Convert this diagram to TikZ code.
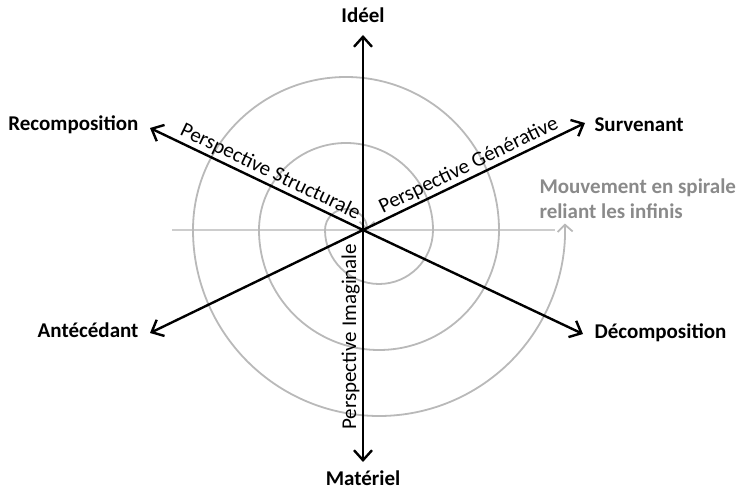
\documentclass[tikz,border=0pt]{standalone}
\usepackage{fontspec}
\setmainfont{Carlito}
\usetikzlibrary{arrows.meta}
\definecolor{spiralgray}{RGB}{185,185,185}
\definecolor{linegray}{RGB}{205,205,205}
\definecolor{notegray}{RGB}{138,138,138}

\begin{document}
\begin{tikzpicture}[x=1pt, y=1pt, >={Straight Barb[length=10pt,width=18pt]},
  every node/.style={font=\fontsize{21}{25}\selectfont},
  axis/.style={line width=2.4pt, ->},
  spiral/.style={draw=spiralgray, line width=1.8pt, {Straight Barb[length=7pt,width=15pt]}-{Straight Barb[length=7pt,width=15pt]}},
  pole/.style={font=\fontsize{21}{25}\selectfont\bfseries}]
\useasboundingbox (0,0) rectangle (743,492);

% spirale et horizon
\draw[linegray, line width=1.4pt] (172,262) -- (555,262);
\draw[spiral] (367,262) arc[start angle=0,end angle=180,radius=21]
  arc[start angle=180,end angle=360,radius=54]
  arc[start angle=0,end angle=180,radius=87]
  arc[start angle=180,end angle=360,radius=120]
  arc[start angle=0,end angle=180,radius=153]
  arc[start angle=180,end angle=362,radius=186];
\node[font=\fontsize{21}{25}\selectfont\bfseries, text=notegray, anchor=west, align=left] (note) at (536,293) {Mouvement en spirale\\reliant les infinis};

% poles
\coordinate (c) at (363,262);
\node[pole] (ideel) at (363,477) {Idéel};
\node[pole] (materiel) at (363,14) {Matériel};
\node[pole, anchor=west] (surv) at (591,367) {Survenant};
\node[pole, anchor=west] (decomp) at (591,159) {Décomposition};
\node[pole, anchor=east] (recomp) at (142,367) {Recomposition};
\node[pole, anchor=east] (antec) at (142,162) {Antécédant};
\coordinate (tI) at (363,457);
\coordinate (tM) at (363,30);
\coordinate (tS) at (585,369);
\coordinate (tD) at (583,158);
\coordinate (tR) at (150,364);
\coordinate (tA) at (150,159);

% axes
\draw[axis] (c) -- (tI);
\draw[axis] (c) -- node[rotate=90, anchor=south, pos=.46, inner sep=2pt]{Perspective Imaginale} (tM);
\draw[axis] (c) -- node[sloped, above, pos=.50, inner sep=2pt]{Perspective Générative} (tS);
\draw[axis] (c) -- (tD);
\draw[axis] (c) -- node[sloped, above, pos=.46, inner sep=2pt]{Perspective Structurale} (tR);
\draw[axis] (c) -- (tA);
\end{tikzpicture}
\end{document}
